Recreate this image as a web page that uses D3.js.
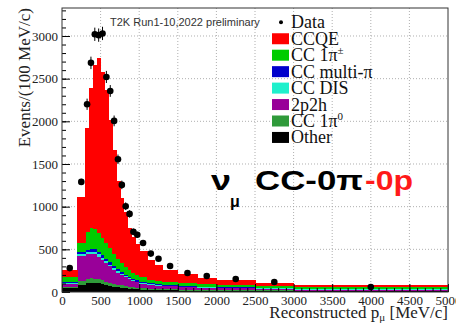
<!DOCTYPE html>
<html>
<head>
<meta charset="utf-8">
<script src="https://cdn.jsdelivr.net/npm/d3@7"></script>
<style>
body { margin: 0; background: #fff; }
svg { display: block; }
</style>
</head>
<body>
<svg width="456" height="324"></svg>
<script>
// bin edges in MeV/c
var binEdges = [0, 200, 300, 350, 400, 450, 500, 550, 600, 650, 700, 750, 800, 850, 900, 950, 1000, 1100, 1200, 1300, 1500, 1750, 2000, 2500, 3000, 5000];

// data, events per 100 MeV/c
var dataValues = [280, 1290, 2200, 2685, 3020, 3010, 3030, 2520, 2356, 2005, 1555, 1255, 1005, 915, 705, 670, 575, 450, 390, 305, 223, 188, 152, 117, 59];
var dataErrors = [12, 36, 66, 73, 78, 78, 78, 71, 69, 63, 56, 50, 45, 43, 38, 37, 24, 21, 20, 12, 10, 9, 6, 5, 3];

// MC stack, bottom to top
var other = [45, 85, 100, 110, 108, 100, 90, 80, 72, 64, 56, 49, 43, 38, 34, 30, 27, 24, 21, 19, 16, 14, 12, 10, 8];
var cc1pi0 = [17, 45, 50, 50, 49, 48, 45, 42, 38, 34, 31, 28, 25, 22, 20, 18, 16, 14, 13, 12, 11, 10, 10, 9, 7];
var twoP2h = [32, 290, 290, 285, 283, 267, 245, 221, 192, 165, 141, 120, 102, 87, 74, 64, 54, 46, 40, 34, 29, 25, 21, 18, 14];
var ccDis = [14, 25, 25, 27, 27, 26, 24, 22, 20, 18, 16, 15, 14, 13, 12, 11, 10, 9, 8, 7, 6, 6, 6, 5, 4];
var ccMultiPi = [13, 20, 30, 33, 33, 31, 29, 27, 26, 24, 22, 20, 18, 16, 14, 13, 12, 11, 10, 9, 8, 7, 7, 6, 5];
var cc1piPm = [59, 109, 205, 249, 240, 223, 202, 183, 162, 145, 126, 110, 94, 80, 68, 59, 51, 41, 36, 31, 30, 30, 29, 24, 17];
var ccqe = [78, 536, 1220, 1636, 1920, 2048, 1945, 1795, 1506, 1215, 908, 758, 645, 491, 426, 365, 315, 235, 188, 146, 111, 72, 50, 30, 23];

var stackKeys = ["other", "cc1pi0", "twoP2h", "ccDis", "ccMultiPi", "cc1piPm", "ccqe"];
var stackColors = {
	other: "#000000",
	cc1pi0: "#2f9a3a",
	twoP2h: "#990099",
	ccDis: "#1ef0cc",
	ccMultiPi: "#0000cc",
	cc1piPm: "#00cc00",
	ccqe: "#ff0000"
};

// legend, top to bottom
var legendKeys = ["ccqe", "cc1piPm", "ccMultiPi", "ccDis", "twoP2h", "cc1pi0", "other"];
var legendLabels = [["CCQE", ""], ["CC 1\u03c0", "\u00b1"], ["CC multi-\u03c0", ""], ["CC DIS", ""], ["2p2h", ""], ["CC 1\u03c0", "0"], ["Other", ""]];

var svg = d3.select("svg");
var frame = { left: 62, right: 448, top: 8, bottom: 292 };

var x = d3.scaleLinear().domain([0, 5000]).range([frame.left, frame.right]);
var y = d3.scaleLinear().domain([0, 3328]).range([frame.bottom, frame.top]);

var serif = "'Liberation Serif', 'Times New Roman', serif";
var sans = "'Liberation Sans', Arial, sans-serif";

// grid
var grid = svg.append("g")
	.attr("stroke", "#9a9a9a")
	.attr("stroke-width", 0.8)
	.attr("stroke-dasharray", "1,2");

grid.selectAll(".gx")
	.data(x.ticks(10).filter(function(d) { return d > 0 && d < 5000; }))
	.enter().append("line")
	.attr("x1", function(d) { return x(d); })
	.attr("x2", function(d) { return x(d); })
	.attr("y1", frame.top)
	.attr("y2", frame.bottom);

grid.selectAll(".gy")
	.data(d3.range(500, 3001, 500))
	.enter().append("line")
	.attr("x1", frame.left)
	.attr("x2", frame.right)
	.attr("y1", function(d) { return y(d); })
	.attr("y2", function(d) { return y(d); });

// stacked MC
var rows = [];
for (var i = 0; i < binEdges.length - 1; i++) {
	rows.push({
		lo: binEdges[i],
		hi: binEdges[i + 1],
		other: other[i],
		cc1pi0: cc1pi0[i],
		twoP2h: twoP2h[i],
		ccDis: ccDis[i],
		ccMultiPi: ccMultiPi[i],
		cc1piPm: cc1piPm[i],
		ccqe: ccqe[i]
	});
}

var series = d3.stack().keys(stackKeys)(rows);

svg.append("g")
	.attr("shape-rendering", "crispEdges")
	.selectAll("g")
	.data(series)
	.enter().append("g")
	.attr("fill", function(d) { return stackColors[d.key]; })
	.selectAll("rect")
	.data(function(d) { return d; })
	.enter().append("rect")
	.attr("x", function(d) { return x(d.data.lo); })
	.attr("width", function(d) { return x(d.data.hi) - x(d.data.lo) + 0.6; })
	.attr("y", function(d) { return y(d[1]); })
	.attr("height", function(d) { return y(d[0]) - y(d[1]); });

// data points
var points = rows.map(function(d, i) {
	return { c: (d.lo + d.hi) / 2, v: dataValues[i], e: dataErrors[i] };
});

var pts = svg.append("g");
pts.selectAll("line")
	.data(points)
	.enter().append("line")
	.attr("x1", function(d) { return x(d.c); })
	.attr("x2", function(d) { return x(d.c); })
	.attr("y1", function(d) { return y(d.v - d.e); })
	.attr("y2", function(d) { return y(d.v + d.e); })
	.attr("stroke", "#000")
	.attr("stroke-width", 1);

pts.selectAll("circle")
	.data(points)
	.enter().append("circle")
	.attr("cx", function(d) { return x(d.c); })
	.attr("cy", function(d) { return y(d.v); })
	.attr("r", 3.3)
	.attr("fill", "#000");

// axes, ticks pointing inside
svg.append("g")
	.attr("transform", "translate(0," + frame.bottom + ")")
	.call(d3.axisBottom(x).ticks(10).tickSizeInner(-8).tickSizeOuter(0).tickPadding(4).tickFormat(d3.format("d")));

svg.append("g")
	.attr("transform", "translate(0," + frame.bottom + ")")
	.call(d3.axisBottom(x).tickValues(d3.range(0, 5001, 100)).tickSizeInner(-4).tickSizeOuter(0).tickFormat(""));

svg.append("g")
	.attr("transform", "translate(" + frame.left + ",0)")
	.call(d3.axisLeft(y).tickValues(d3.range(0, 3001, 500)).tickSizeInner(-8).tickSizeOuter(0).tickPadding(4).tickFormat(d3.format("d")));

svg.append("g")
	.attr("transform", "translate(" + frame.left + ",0)")
	.call(d3.axisLeft(y).tickValues(d3.range(0, 3301, 100)).tickSizeInner(-4).tickSizeOuter(0).tickFormat(""));

svg.selectAll(".domain").remove();
svg.selectAll(".tick line").attr("stroke", "#000");
svg.selectAll(".tick text")
	.attr("font-family", serif)
	.attr("font-size", 13)
	.attr("fill", "#222");

// frame
svg.append("rect")
	.attr("x", frame.left)
	.attr("y", frame.top)
	.attr("width", frame.right - frame.left)
	.attr("height", frame.bottom - frame.top)
	.attr("fill", "none")
	.attr("stroke", "#333")
	.attr("stroke-width", 1);

// axis titles
svg.append("text")
	.attr("transform", "translate(30," + frame.top + ") rotate(-90)")
	.attr("text-anchor", "end")
	.attr("font-family", serif)
	.attr("font-size", 17)
	.attr("fill", "#222")
	.text("Events/(100 MeV/c)");

var xt = svg.append("text")
	.attr("x", frame.right)
	.attr("y", 318)
	.attr("text-anchor", "end")
	.attr("font-family", serif)
	.attr("font-size", 17)
	.attr("fill", "#222");
xt.append("tspan").text("Reconstructed p");
xt.append("tspan").attr("font-size", 11).attr("dy", 3).text("\u03bc");
xt.append("tspan").attr("dy", -3).text(" [MeV/c]");

// run label
svg.append("text")
	.attr("x", 110)
	.attr("y", 26)
	.attr("font-family", sans)
	.attr("font-size", 11)
	.attr("fill", "#333")
	.text("T2K Run1-10,2022 preliminary");

// legend
var rowY = function(i) { return 22.3 + 16.45 * i; };

svg.append("circle")
	.attr("cx", 281)
	.attr("cy", rowY(0))
	.attr("r", 2)
	.attr("fill", "#000");

svg.append("text")
	.attr("x", 291)
	.attr("y", rowY(0) + 6)
	.attr("font-family", serif)
	.attr("font-size", 18)
	.attr("fill", "#111")
	.text("Data");

legendKeys.forEach(function(k, i) {
	var cy = rowY(i + 1);
	svg.append("rect")
		.attr("x", 272)
		.attr("y", cy - 5.5)
		.attr("width", 17)
		.attr("height", 11)
		.attr("fill", stackColors[k]);
	var t = svg.append("text")
		.attr("x", 291)
		.attr("y", cy + 6)
		.attr("font-family", serif)
		.attr("font-size", 18)
		.attr("fill", "#111");
	t.append("tspan").text(legendLabels[i][0]);
	if (legendLabels[i][1]) {
		t.append("tspan").attr("font-size", 11).attr("dy", -7).text(legendLabels[i][1]);
	}
});

// big channel label
var big = svg.append("g")
	.attr("font-family", sans)
	.attr("font-weight", "bold");

big.append("text")
	.attr("x", 211)
	.attr("y", 190)
	.attr("font-size", 28)
	.attr("textLength", 20)
	.attr("lengthAdjust", "spacingAndGlyphs")
	.text("\u03bd");

big.append("text")
	.attr("x", 230)
	.attr("y", 207)
	.attr("font-size", 16)
	.text("\u03bc");

big.append("text")
	.attr("x", 255)
	.attr("y", 190)
	.attr("font-size", 28)
	.attr("textLength", 108)
	.attr("lengthAdjust", "spacingAndGlyphs")
	.text("CC-0\u03c0");

big.append("text")
	.attr("x", 365)
	.attr("y", 190)
	.attr("font-size", 28)
	.attr("fill", "#ff1a1a")
	.attr("textLength", 48)
	.attr("lengthAdjust", "spacingAndGlyphs")
	.text("-0p");
</script>
</body>
</html>
